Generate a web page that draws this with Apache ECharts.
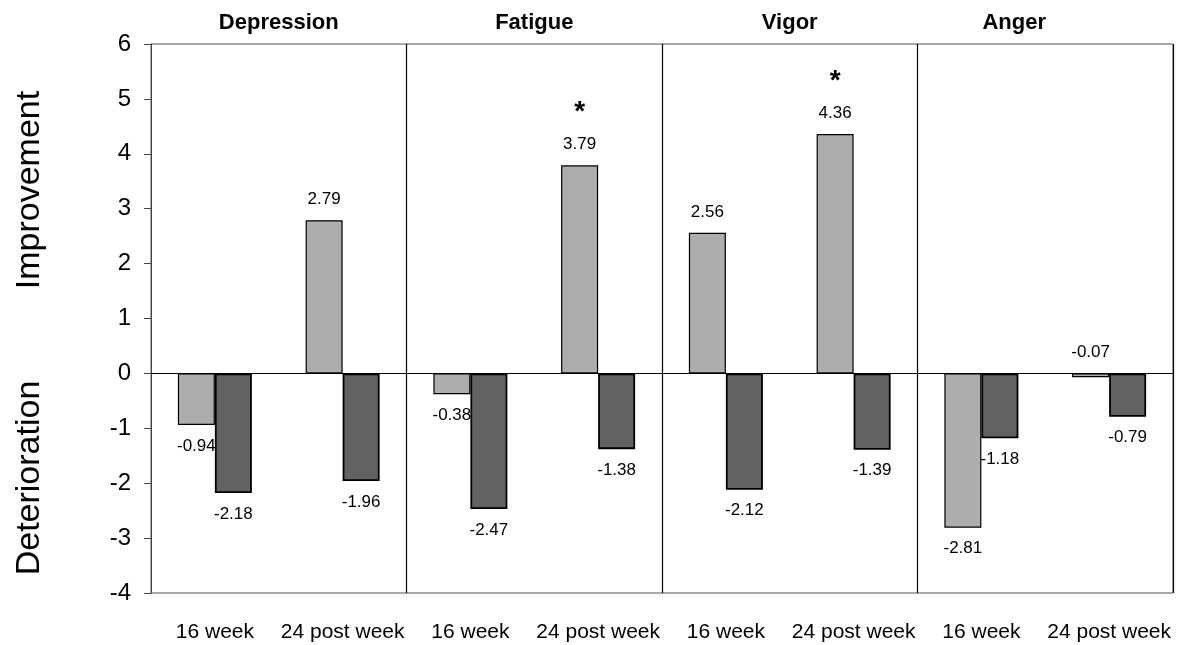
<!DOCTYPE html>
<html>
<head>
<meta charset="utf-8">
<script src="https://cdn.jsdelivr.net/npm/echarts@6/dist/echarts.min.js"></script>
<style>
html,body{margin:0;padding:0;background:#fff;}
#chart{width:1192px;height:645px;}
</style>
</head>
<body>
<div id="chart"></div>
<script>
// ---- data ----
var categories = ['16 week', '24 post week', '16 week', '24 post week', '16 week', '24 post week', '16 week', '24 post week'];
var panels = ['Depression', 'Fatigue', 'Vigor', 'Anger'];
var lightValues = [-0.94, 2.79, -0.38, 3.79, 2.56, 4.36, -2.81, -0.07];
var darkValues = [-2.18, -1.96, -2.47, -1.38, -2.12, -1.39, -1.18, -0.79];
var significant = [false, false, false, true, false, true, false, false];
var yTicks = { min: -4, max: 6, interval: 1 };
var axisNames = ['Improvement', 'Deterioration'];

var FONT = '"Liberation Sans", Arial, sans-serif';

function labelFor(v, star) {
  var pos = v > -0.1 ? 'top' : 'bottom';
  return {
    show: true,
    position: pos,
    distance: 12,
    fontFamily: FONT,
    fontSize: 17,
    color: '#000',
    formatter: function () {
      var t = '{v|' + v.toFixed(2) + '}';
      return star ? '{s|*}\n' + t : t;
    },
    rich: {
      v: { fontFamily: FONT, fontSize: 17, lineHeight: 18, color: '#000' },
      s: { fontFamily: FONT, fontSize: 28, fontWeight: 'bold', lineHeight: 46, color: '#000' }
    }
  };
}

var lightData = lightValues.map(function (v, i) {
  return { value: v, label: labelFor(v, significant[i]) };
});
var darkData = darkValues.map(function (v) {
  return { value: v, label: labelFor(v, false) };
});

var chart = echarts.init(document.getElementById('chart'));
chart.setOption({
  backgroundColor: '#fff',
  animation: false,
  grid: { left: 151, right: 19, top: 44, bottom: 52, show: true, borderColor: '#555', borderWidth: 1 },
  xAxis: [
    {
      type: 'category',
      data: categories,
      position: 'bottom',
      axisLine: { show: false, onZero: false },
      axisTick: { show: false },
      axisLabel: { fontFamily: FONT, fontSize: 21, color: '#000', margin: 29, interval: 0 },
      splitLine: {
        show: true,
        interval: function (index) { return index === 2 || index === 4 || index === 6; },
        lineStyle: { color: '#000', width: 1.2 }
      }
    },
    {
      type: 'category',
      data: panels,
      position: 'top',
      axisLine: { show: false },
      axisTick: { show: false },
      splitLine: { show: false },
      axisLabel: {
        margin: 10,
        interval: 0,
        formatter: function (v) { return v === 'Anger' ? '{a|' + v + '}' : '{b|' + v + '}'; },
        rich: {
          a: { fontFamily: FONT, fontSize: 22, fontWeight: 'bold', color: '#000', padding: [0, 62, 0, 0] },
          b: { fontFamily: FONT, fontSize: 22, fontWeight: 'bold', color: '#000' }
        }
      }
    }
  ],
  yAxis: {
    type: 'value',
    min: yTicks.min,
    max: yTicks.max,
    interval: yTicks.interval,
    axisLine: { show: true, lineStyle: { color: '#444', width: 1 } },
    axisTick: { show: true, length: 7, lineStyle: { color: '#444' } },
    axisLabel: { fontFamily: FONT, fontSize: 24, color: '#000', margin: 20 },
    splitLine: { show: false }
  },
  graphic: [
    {
      type: 'text', rotation: Math.PI / 2, x: 30, y: 190,
      style: { text: axisNames[0], font: '34px ' + FONT, fill: '#000', textAlign: 'center', textVerticalAlign: 'middle' }
    },
    {
      type: 'text', rotation: Math.PI / 2, x: 30, y: 478,
      style: { text: axisNames[1], font: '34px ' + FONT, fill: '#000', textAlign: 'center', textVerticalAlign: 'middle' }
    }
  ],
  series: [
    {
      type: 'bar',
      name: 'light',
      xAxisIndex: 0,
      data: lightData,
      barWidth: 37,
      barGap: '0%',
      itemStyle: { color: '#adadad', borderColor: '#000', borderWidth: 1.2 }
    },
    {
      type: 'bar',
      name: 'dark',
      xAxisIndex: 0,
      data: darkData,
      barWidth: 37,
      barGap: '0%',
      itemStyle: { color: '#626262', borderColor: '#000', borderWidth: 1.8 },
      markLine: {
        silent: true,
        symbol: 'none',
        label: { show: false },
        lineStyle: { color: '#000', width: 1.2, type: 'solid' },
        data: [{ yAxis: 0 }]
      }
    }
  ]
});
</script>
</body>
</html>
